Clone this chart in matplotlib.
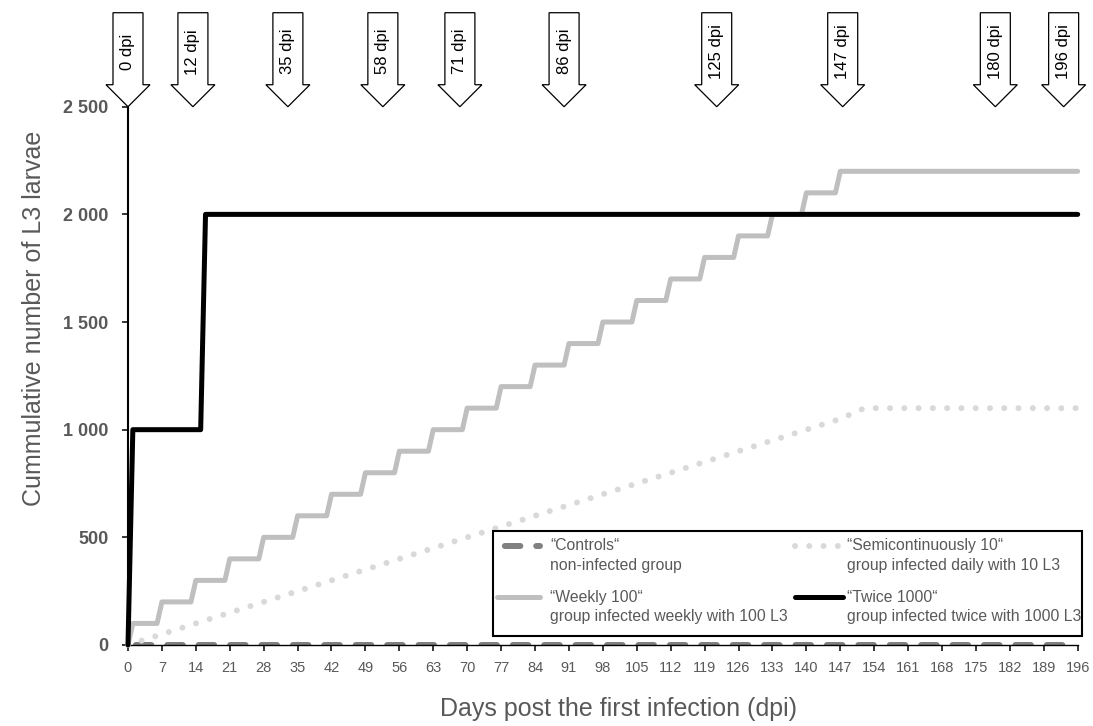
import matplotlib
matplotlib.use("Agg")
import matplotlib.pyplot as plt
from matplotlib.lines import Line2D
from matplotlib.patches import Polygon, Rectangle
from matplotlib.transforms import ScaledTranslation

FONT = ["Liberation Sans", "DejaVu Sans"]
TEXT_GREY = "#595959"

# cumulative number of L3 larvae per day post first infection
controls_days = [0, 196]
controls_vals = [0, 0]

semi_days = [0, 7, 14, 21, 28, 35, 42, 49, 56, 63, 70, 77, 84, 91, 98, 105,
             112, 119, 126, 133, 140, 147, 152, 196]
semi_vals = [0, 50, 100, 150, 200, 250, 300, 350, 400, 450, 500, 550, 600, 650,
             700, 750, 800, 850, 900, 950, 1000, 1050, 1100, 1100]

weekly_days = [0, 1, 6, 7, 13, 14, 20, 21, 27, 28, 34, 35, 41, 42, 48, 49, 55, 56,
               62, 63, 69, 70, 76, 77, 83, 84, 90, 91, 97, 98, 104, 105, 111, 112,
               118, 119, 125, 126, 132, 133, 139, 140, 146, 147, 196]
weekly_vals = [0, 100, 100, 200, 200, 300, 300, 400, 400, 500, 500, 600, 600, 700,
               700, 800, 800, 900, 900, 1000, 1000, 1100, 1100, 1200, 1200, 1300,
               1300, 1400, 1400, 1500, 1500, 1600, 1600, 1700, 1700, 1800, 1800,
               1900, 1900, 2000, 2000, 2100, 2100, 2200, 2200]

twice_days = [0, 1, 15, 16, 196]
twice_vals = [0, 1000, 1000, 2000, 2000]

# sampling arrows above the plot
arrow_labels = ["0 dpi", "12 dpi", "35 dpi", "58 dpi", "71 dpi", "86 dpi",
                "125 dpi", "147 dpi", "180 dpi", "196 dpi"]
arrow_days = [0, 13.4, 33, 52.6, 68.5, 90, 121.5, 147.5, 179, 193.1]

x_ticks = list(range(0, 197, 7))
y_ticks = [0, 500, 1000, 1500, 2000, 2500]
y_ticklabels = ["0", "500", "1 000", "1 500", "2 000", "2 500"]

styles = {
    "controls": dict(color="#808080", lw=4.3, ls=(3.95, (2.6, 2.66)),
                     dash_capstyle="round"),
    "semi": dict(color="#d9d9d9", lw=4.3, ls=(0, (0.01, 2.38)),
                 dash_capstyle="round"),
    "weekly": dict(color="#bfbfbf", lw=3.6, solid_capstyle="round",
                   solid_joinstyle="round"),
    "twice": dict(color="black", lw=3.6, solid_capstyle="round",
                  solid_joinstyle="round"),
}

fig = plt.figure(figsize=(10.93, 7.26), dpi=100)
ax = fig.add_axes([0.1171, 0.1116, 0.8689, 0.7414])

ax.plot(controls_days, controls_vals, zorder=2, **styles["controls"])
ax.plot(semi_days, semi_vals, zorder=3, clip_on=False, **styles["semi"])
ax.plot(weekly_days, weekly_vals, zorder=4, clip_on=False, **styles["weekly"])
ax.plot(twice_days, twice_vals, zorder=5, clip_on=False, **styles["twice"])

ax.set_xlim(0, 196)
ax.set_ylim(0, 2500)
ax.set_xticks(x_ticks)
ax.set_xticklabels([str(t) for t in x_ticks], family=FONT, size=10.5,
                   color=TEXT_GREY)
ax.set_yticks(y_ticks)
ax.set_yticklabels(y_ticklabels, family=FONT, size=13, weight="bold",
                   color=TEXT_GREY)
ax.tick_params(axis="x", length=4.5, width=1.1, pad=7)
ax.tick_params(axis="y", length=4, width=1.1, pad=10)
for side in ["top", "right"]:
    ax.spines[side].set_visible(False)
ax.spines["left"].set_linewidth(1.5)
ax.spines["bottom"].set_linewidth(1.0)

fig.text(0.031, 0.561, "Cummulative number of L3 larvae", rotation=90,
         ha="center", va="center", family=FONT, size=18, color=TEXT_GREY)
fig.text(0.566, 0.024, "Days post the first infection (dpi)", ha="center",
         va="center", family=FONT, size=18, color=TEXT_GREY)

# arrows: shapes in pixels, tip sitting on the 2 500 line
shaft, head, head_len, length = 15, 22, 22, 94
arrow_shape = [(-shaft, length), (shaft, length), (shaft, head_len),
               (head, head_len), (0, 0), (-head, head_len), (-shaft, head_len)]
for day, label in zip(arrow_days, arrow_labels):
    tr = ScaledTranslation(day, 2500, ax.transData)
    ax.add_patch(Polygon(arrow_shape, closed=True, transform=tr, fc="white",
                         ec="black", lw=0.9, clip_on=False, zorder=6))
    ax.text(0, 55, label, transform=tr, rotation=90, ha="center", va="center",
            family=FONT, size=12, color="black", clip_on=False, zorder=7)

# legend box drawn by hand so the sample line sits on the first text line
ax.add_patch(Rectangle((0.3843, 0.0167), 0.6202, 0.1953, transform=ax.transAxes,
                       fc="white", ec="black", lw=1.5, clip_on=False, zorder=8))
legend_items = [
    ("controls", "\u201cControls\u201c", "non-infected group", 0, 0),
    ("semi", "\u201cSemicontinuously 10\u201c", "group infected daily with 10 L3", 1, 0),
    ("weekly", "\u201cWeekly 100\u201c", "group infected weekly with 100 L3", 0, 1),
    ("twice", "\u201cTwice 1000\u201c", "group infected twice with 1000 L3", 1, 1),
]
col_handle = [(0.3886, 0.434), (0.702, 0.753)]
col_text = [0.4444, 0.757]
row_y = [(0.184, 0.147), (0.089, 0.052)]
for key, title, sub, col, row in legend_items:
    y1, y2 = row_y[row]
    ax.add_line(Line2D(col_handle[col], [y1, y1], transform=ax.transAxes,
                       clip_on=False, zorder=9, **styles[key]))
    ax.text(col_text[col], y1, title, transform=ax.transAxes, va="center",
            family=FONT, size=11.3, color=TEXT_GREY, zorder=9)
    ax.text(col_text[col], y2, sub, transform=ax.transAxes, va="center",
            family=FONT, size=11.3, color=TEXT_GREY, zorder=9)

fig.savefig("out.png", dpi=100)
